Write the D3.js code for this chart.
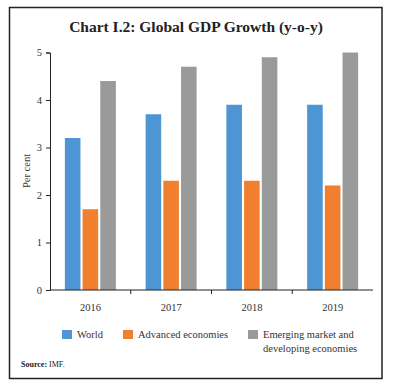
<!DOCTYPE html>
<html><head><meta charset="utf-8">
<script src="https://cdn.jsdelivr.net/npm/d3@7"></script>
<style>body{margin:0;background:#fff}</style>
</head><body>
<script>
const years = ["2016","2017","2018","2019"];
const seriesNames = ["World","Advanced economies","Emerging market and developing economies"];
const world = [3.2, 3.7, 3.9, 3.9];
const advanced = [1.7, 2.3, 2.3, 2.2];
const emerging = [4.4, 4.7, 4.9, 5.0];
const yTicks = [0,1,2,3,4,5];
const colors = ["#4e95d3","#f07f2f","#999b9b"];
const values = [world, advanced, emerging];

const W=393,H=390;
const svg=d3.select("body").append("svg").attr("width",W).attr("height",H);
const font="'Liberation Serif', 'DejaVu Serif', serif";
svg.append("rect").attr("x",9.5).attr("y",7.5).attr("width",372.5).attr("height",371).attr("fill","none").attr("stroke","#222").attr("stroke-width",1.5);
svg.append("text").attr("x",196).attr("y",32).attr("text-anchor","middle").attr("font-family",font).attr("font-weight","bold").attr("font-size",15.5).attr("fill","#222").text("Chart I.2: Global GDP Growth (y-o-y)");

const x=d3.scaleBand().domain(years).range([50,373]);
const y=d3.scaleLinear().domain([0,5]).range([290,52.5]);
const sub=d3.scaleBand().domain(d3.range(3)).range([0,51]).paddingInner(0.12);

const g=svg.append("g");
years.forEach((yr,i)=>{
  const cx=x(yr)+x.bandwidth()/2-25.5;
  values.forEach((arr,s)=>{
    g.append("rect").attr("x",cx+sub(s)).attr("width",sub.bandwidth())
     .attr("y",y(arr[i])).attr("height",y(0)-y(arr[i])).attr("fill",colors[s]);
  });
});

const ya=svg.append("g").attr("transform","translate(50,0)").call(d3.axisLeft(y).tickValues(yTicks).tickSize(4).tickPadding(4).tickFormat(d3.format("d")));
ya.select(".domain").attr("stroke","#222");
ya.selectAll(".tick line").attr("stroke","#222");
ya.selectAll("text").attr("font-family",font).attr("font-size",10.5).attr("fill","#333");

const xa=svg.append("g").attr("transform","translate(0,290)");
xa.append("line").attr("x1",50).attr("x2",373).attr("y1",0).attr("y2",0).attr("stroke","#222");
years.slice(1).forEach(yr=>{
  xa.append("line").attr("x1",x(yr)).attr("x2",x(yr)).attr("y1",0).attr("y2",4).attr("stroke","#222");
});
years.forEach(yr=>{
  xa.append("text").attr("x",x(yr)+x.bandwidth()/2).attr("y",21).attr("text-anchor","middle").attr("font-family",font).attr("font-size",10.5).attr("fill","#333").text(yr);
});

svg.append("text").attr("transform","translate(30,171) rotate(-90)").attr("text-anchor","middle").attr("font-family",font).attr("font-size",10.5).attr("fill","#333").text("Per cent");

const leg=[{x:62,t:["World"]},{x:123,t:["Advanced economies"]},{x:248,t:["Emerging market and","developing economies"]}];
leg.forEach((l,i)=>{
  svg.append("rect").attr("x",l.x).attr("y",330).attr("width",10).attr("height",9).attr("fill",colors[i]);
  l.t.forEach((line,j)=>{
    svg.append("text").attr("x",l.x+15).attr("y",338+j*14).attr("font-family",font).attr("font-size",10.5).attr("fill","#333").text(line);
  });
});

const src=svg.append("text").attr("x",21).attr("y",367).attr("font-family",font).attr("font-size",8).attr("fill","#222");
src.append("tspan").attr("font-weight","bold").text("Source: ");
src.append("tspan").text("IMF.");
</script>
</body></html>
